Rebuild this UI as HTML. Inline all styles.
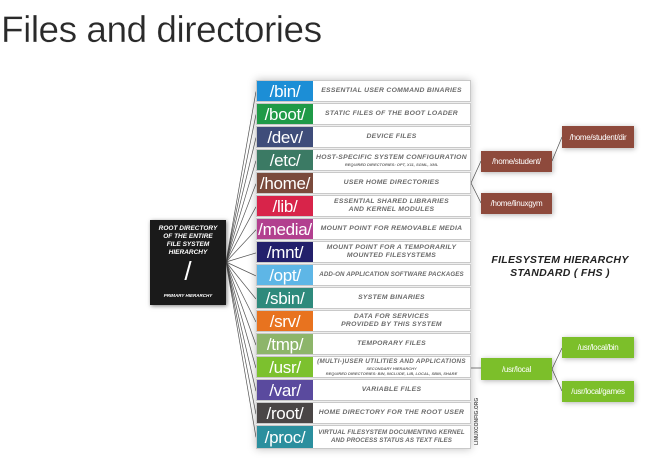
<!DOCTYPE html>
<html><head><meta charset="utf-8"><style>
html,body{margin:0;padding:0;background:#fff;width:661px;height:460px;overflow:hidden;position:relative;font-family:"Liberation Sans",sans-serif}
.t{position:absolute;left:1px;top:9px;font-size:37px;color:#2a2a2a;letter-spacing:-0.5px;font-weight:normal;-webkit-text-stroke:0.3px #fff}
.tbl{position:absolute;left:256px;top:80px;width:215px;height:369px;box-shadow:0 0 8px rgba(0,0,0,.25);background:#eee}
.r{position:absolute;left:0;width:215px;height:22px;background:#fff;border:1px solid #c9c9c9;box-sizing:border-box}
.r .k{position:absolute;left:0;top:0;width:56px;height:100%;color:#fff;font-size:17px;line-height:21px;text-align:center;letter-spacing:-0.3px}
.r .d{position:absolute;left:58px;right:2px;top:0;height:100%;display:flex;flex-direction:column;justify-content:center;align-items:center;text-align:center;color:#6a6a6a;font-style:italic;font-weight:bold;font-size:6.8px;line-height:8px;letter-spacing:.3px;white-space:nowrap}
.r .d small{font-size:4px;line-height:5px;letter-spacing:0}
.root{position:absolute;left:150px;top:220px;width:76px;height:85px;background:#1a1a1a;color:#fff;font-style:italic;font-weight:bold;text-align:center;box-shadow:1px 1px 4px rgba(0,0,0,.5)}
.box{position:absolute;color:#fff;font-size:8px;display:flex;align-items:center;justify-content:center;box-shadow:1px 1px 5px rgba(0,0,0,.3);letter-spacing:-0.3px}
.br{background:#8e4a3c}.gr{background:#7cbf2a}
.fhs{position:absolute;left:480px;top:254px;width:160px;text-align:center;font-style:italic;font-weight:bold;font-size:10.5px;line-height:13px;color:#222;letter-spacing:.3px;white-space:nowrap}
</style></head><body>
<div class="t">Files and directories</div>
<svg style="position:absolute;left:0;top:0" width="661" height="460">
<g stroke="#555" stroke-width="0.7" fill="none">
<path d="M226 262 L256 91.5 M226 262 L256 114.6 M226 262 L256 137.6 M226 262 L256 160.7 M226 262 L256 183.7 M226 262 L256 206.8 M226 262 L256 229.8 M226 262 L256 252.9 M226 262 L256 275.9 M226 262 L256 299 M226 262 L256 322 M226 262 L256 345.1 M226 262 L256 368.1 M226 262 L256 391.2 M226 262 L256 414.2 M226 262 L256 437.3"/>
<path d="M471 183 L481 161 M471 183 L481 203 M552 161 L562 137 M471 368 L481 368 M552 369 L562 348 M552 369 L562 391"/>
</g></svg>
<div class="tbl">
<div class="r" style="top:0"><div class="k" style="background:#1c8ed6">/bin/</div><div class="d">ESSENTIAL USER COMMAND BINARIES</div></div>
<div class="r" style="top:23px"><div class="k" style="background:#1f9a47">/boot/</div><div class="d">STATIC FILES OF THE BOOT LOADER</div></div>
<div class="r" style="top:46px"><div class="k" style="background:#3f4d7a">/dev/</div><div class="d">DEVICE FILES</div></div>
<div class="r" style="top:69px"><div class="k" style="background:#3b7a64">/etc/</div><div class="d">HOST-SPECIFIC SYSTEM CONFIGURATION<small>REQUIRED DIRECTORIES: OPT, X11, SGML, XML</small></div></div>
<div class="r" style="top:92px"><div class="k" style="background:#7a4a3c">/home/</div><div class="d">USER HOME DIRECTORIES</div></div>
<div class="r" style="top:115px"><div class="k" style="background:#d8244a">/lib/</div><div class="d">ESSENTIAL SHARED LIBRARIES<br>AND KERNEL MODULES</div></div>
<div class="r" style="top:138px"><div class="k" style="background:#b2408f">/media/</div><div class="d">MOUNT POINT FOR REMOVABLE MEDIA</div></div>
<div class="r" style="top:161px"><div class="k" style="background:#23206b">/mnt/</div><div class="d">MOUNT POINT FOR A TEMPORARILY<br>MOUNTED FILESYSTEMS</div></div>
<div class="r" style="top:184px"><div class="k" style="background:#5eb6e6">/opt/</div><div class="d" style="font-size:6.2px;letter-spacing:.1px">ADD-ON APPLICATION SOFTWARE PACKAGES</div></div>
<div class="r" style="top:207px"><div class="k" style="background:#2e8a7c">/sbin/</div><div class="d">SYSTEM BINARIES</div></div>
<div class="r" style="top:230px"><div class="k" style="background:#e8731f">/srv/</div><div class="d">DATA FOR SERVICES<br>PROVIDED BY THIS SYSTEM</div></div>
<div class="r" style="top:253px"><div class="k" style="background:#8db56a">/tmp/</div><div class="d">TEMPORARY FILES</div></div>
<div class="r" style="top:276px"><div class="k" style="background:#7cc12e">/usr/</div><div class="d" style="font-size:6.3px">(MULTI-)USER UTILITIES AND APPLICATIONS<small>SECONDARY HIERARCHY<br>REQUIRED DIRECTORIES: BIN, INCLUDE, LIB, LOCAL, SBIN, SHARE</small></div></div>
<div class="r" style="top:299px"><div class="k" style="background:#5a4a9e">/var/</div><div class="d">VARIABLE FILES</div></div>
<div class="r" style="top:322px"><div class="k" style="background:#4a4646">/root/</div><div class="d">HOME DIRECTORY FOR THE ROOT USER</div></div>
<div class="r" style="top:345px;height:24px"><div class="k" style="background:#2b8f9e;line-height:23px">/proc/</div><div class="d" style="font-size:6.2px;letter-spacing:.1px">VIRTUAL FILESYSTEM DOCUMENTING KERNEL<br>AND PROCESS STATUS AS TEXT FILES</div></div>
</div>
<div class="root"><div style="font-size:6.5px;line-height:8px;margin-top:5px">ROOT DIRECTORY<br>OF THE ENTIRE<br>FILE SYSTEM<br>HIERARCHY</div><div style="font-size:26px;line-height:28px;font-style:normal;font-weight:normal">/</div><div style="font-size:4.5px;margin-top:8px">PRIMARY HIERARCHY</div></div>
<div class="box br" style="left:481px;top:151px;width:71px;height:21px">/home/student/</div>
<div class="box br" style="left:562px;top:126px;width:72px;height:22px">/home/student/dir</div>
<div class="box br" style="left:481px;top:193px;width:71px;height:21px">/home/linuxgym</div>
<div class="box gr" style="left:481px;top:358px;width:71px;height:22px">/usr/local</div>
<div class="box gr" style="left:562px;top:337px;width:72px;height:21px">/usr/local/bin</div>
<div class="box gr" style="left:562px;top:381px;width:72px;height:21px">/usr/local/games</div>
<div class="fhs">FILESYSTEM HIERARCHY<br>STANDARD ( FHS )</div>
<div style="position:absolute;left:474px;top:445px;font-size:5px;color:#555;transform:rotate(-90deg);transform-origin:left top;font-weight:bold">LINUXCONFIG.ORG</div>
</body></html>
